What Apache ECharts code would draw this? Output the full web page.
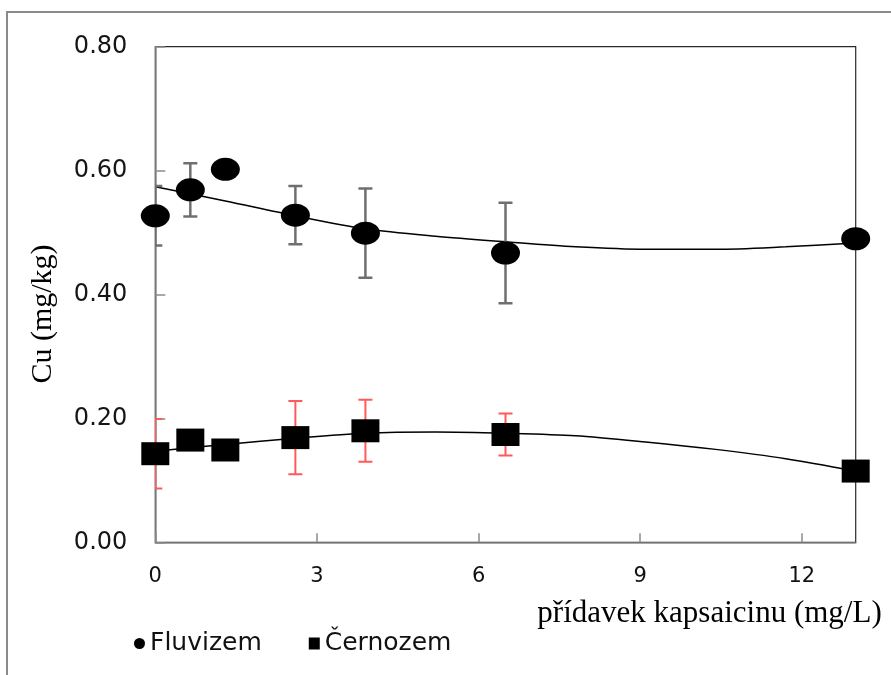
<!DOCTYPE html>
<html>
<head>
<meta charset="utf-8">
<script src="https://cdn.jsdelivr.net/npm/echarts@6/dist/echarts.min.js"></script>
<style>
  html, body { margin: 0; padding: 0; background: #fff; }
  #chart { width: 891px; height: 675px; }
</style>
</head>
<body>
<div id="chart"></div>
<script>
// Capsaicin dose (mg/L)
const doses = [0, 0.65, 1.3, 2.6, 3.9, 6.5, 13];

// Cu content (mg/kg) and standard deviations per soil
const fluvizem = [0.527, 0.569, 0.602, 0.528, 0.499, 0.467, 0.490];
const fluvizemErr = [0.048, 0.043, null, 0.047, 0.072, 0.081, null];
const cernozem = [0.143, 0.165, 0.149, 0.169, 0.180, 0.174, 0.115];
const cernozemErr = [0.056, null, null, 0.059, 0.050, 0.034, null];

// Trend curves sampled along the dose axis
const trendX = [0, 1.3, 2.6, 3.9, 5.2, 6.5, 7.8, 9.1, 10.4, 11.7, 13];
const fluvizemTrend = [0.574, 0.551, 0.527, 0.506, 0.494, 0.485, 0.477, 0.473, 0.473, 0.477, 0.483];
const cernozemTrend = [0.147, 0.158, 0.168, 0.176, 0.178, 0.176, 0.172, 0.162, 0.150, 0.135, 0.115];

const xTicks = [0, 3, 6, 9, 12];
const yTicks = [0, 0.2, 0.4, 0.6, 0.8];

const seriesNames = ['Fluvizem', 'Černozem'];
const xTitle = 'přídavek kapsaicinu (mg/L)';
const yTitle = 'Cu (mg/kg)';

const pairs = (xs, ys) => xs.map((x, i) => [x, ys[i]]);
const errRows = (vals, errs) => doses
  .map((x, i) => errs[i] == null ? null : [x, vals[i] - errs[i], vals[i] + errs[i]])
  .filter(r => r !== null);

// Vertical whisker with caps; caps are trimmed at the plot's left edge
function errorBar(color, width) {
  return function (params, api) {
    const x = api.value(0);
    const top = api.coord([x, api.value(2)]);
    const bot = api.coord([x, api.value(1)]);
    const left = params.coordSys.x;
    const half = 7;
    const x1 = Math.max(top[0] - half, left);
    const x2 = top[0] + half;
    const style = { stroke: color, lineWidth: width };
    return {
      type: 'group',
      children: [
        { type: 'line', shape: { x1: top[0], y1: top[1], x2: bot[0], y2: bot[1] }, style },
        { type: 'line', shape: { x1: x1, y1: top[1], x2: x2, y2: top[1] }, style },
        { type: 'line', shape: { x1: x1, y1: bot[1], x2: x2, y2: bot[1] }, style }
      ]
    };
  };
}

const chart = echarts.init(document.getElementById('chart'), null, { renderer: 'canvas' });

const sans = 'DejaVu Sans';
const serif = 'Liberation Serif';

chart.setOption({
  animation: false,
  backgroundColor: '#fff',
  graphic: [{
    type: 'rect',
    shape: { x: 7, y: 12, width: 900, height: 700 },
    style: { fill: 'none', stroke: '#8a8a8a', lineWidth: 2 },
    silent: true
  }],
  grid: {
    left: 155.3, right: 35.3, top: 46.7, bottom: 132.7,
    show: true, borderColor: '#2a2a2a', borderWidth: 1.2, backgroundColor: 'transparent'
  },
  legend: {
    left: 134, top: 631, padding: 0,
    itemWidth: 11, itemHeight: 12, itemGap: 47,
    textStyle: { fontFamily: sans, fontSize: 25, color: '#111' },
    data: [
      { name: seriesNames[0], icon: 'circle' },
      { name: seriesNames[1], icon: 'rect' }
    ]
  },
  xAxis: {
    type: 'value', min: 0, max: 13, interval: 3,
    name: xTitle, nameLocation: 'end', nameGap: 26,
    nameTextStyle: {
      fontFamily: serif, fontSize: 31, color: '#000',
      align: 'right', verticalAlign: 'top', padding: [56, 0, 0, 0]
    },
    axisLine: { lineStyle: { color: '#8c8c8c', width: 1.5 } },
    axisTick: { inside: true, length: 9, lineStyle: { color: '#8c8c8c', width: 1.5 } },
    axisLabel: {
      margin: 24, fontFamily: sans, fontSize: 21, color: '#111',
      showMaxLabel: false,
      formatter: v => xTicks.includes(v) ? String(v) : ''
    },
    splitLine: { show: false }
  },
  yAxis: {
    type: 'value', min: 0, max: 0.8, interval: 0.2,
    name: yTitle, nameLocation: 'middle', nameGap: 97, nameRotate: 90,
    nameTextStyle: {
      fontFamily: serif, fontSize: 30, color: '#000', padding: [0, 39, 0, 0]
    },
    axisLine: { show: true, lineStyle: { color: '#8c8c8c', width: 1.5 } },
    axisTick: { show: true, inside: true, length: 10, lineStyle: { color: '#8c8c8c', width: 1.5 } },
    axisLabel: {
      margin: 28, fontFamily: sans, fontSize: 24, color: '#151515',
      formatter: v => yTicks.some(t => Math.abs(t - v) < 1e-9) ? v.toFixed(2) : ''
    },
    splitLine: { show: false }
  },
  series: [
    {
      name: 'Fluvizem trend', type: 'line', data: pairs(trendX, fluvizemTrend),
      smooth: 0.3, showSymbol: false, symbol: 'none', silent: true,
      lineStyle: { color: '#000', width: 1.5 }, z: 2
    },
    {
      name: 'Černozem trend', type: 'line', data: pairs(trendX, cernozemTrend),
      smooth: 0.3, showSymbol: false, symbol: 'none', silent: true,
      lineStyle: { color: '#000', width: 1.5 }, z: 2
    },
    {
      name: 'Fluvizem SD', type: 'custom', data: errRows(fluvizem, fluvizemErr),
      renderItem: errorBar('#6f6f6f', 2.5), encode: { x: 0, y: [1, 2] },
      clip: true, silent: true, z: 3
    },
    {
      name: 'Černozem SD', type: 'custom', data: errRows(cernozem, cernozemErr),
      renderItem: errorBar('#ff5a5a', 2), encode: { x: 0, y: [1, 2] },
      clip: true, silent: true, z: 3
    },
    {
      name: seriesNames[0], type: 'scatter', data: pairs(doses, fluvizem),
      symbol: 'circle', symbolSize: [29, 23],
      itemStyle: { color: '#000', opacity: 1 }, clip: false, z: 5
    },
    {
      name: seriesNames[1], type: 'scatter', data: pairs(doses, cernozem),
      symbol: 'rect', symbolSize: [28, 23],
      itemStyle: { color: '#000', opacity: 1 }, clip: false, z: 5
    }
  ]
});
</script>
</body>
</html>
